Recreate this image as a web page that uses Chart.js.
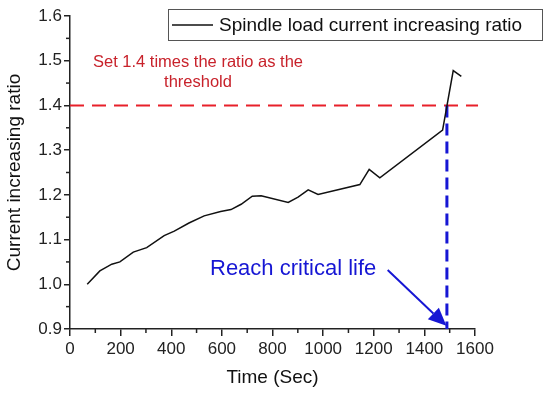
<!DOCTYPE html>
<html>
<head>
<meta charset="utf-8">
<script src="https://cdn.jsdelivr.net/npm/chart.js@4.4.1/dist/chart.umd.min.js"></script>
<style>
  body { margin: 0; background: #fff; }
  #wrap { width: 550px; height: 393px; }
</style>
</head>
<body>
<div id="wrap"><canvas id="c" width="550" height="393"></canvas></div>
<script>
// values
const seriesLabel = "Spindle load current increasing ratio";
const times = [68, 118, 165, 197, 250, 303, 372, 412, 470, 530, 595, 636, 676, 720, 755,
               862, 901, 941, 980, 1145, 1182, 1224, 1472, 1514, 1546];
const ratios = [1.000, 1.030, 1.045, 1.050, 1.072, 1.082, 1.109, 1.119, 1.137, 1.153, 1.163, 1.167,
                1.179, 1.197, 1.198, 1.183, 1.195, 1.211, 1.201, 1.223, 1.257, 1.238, 1.345, 1.478, 1.465];

const thresholdX = [0, 1612];
const thresholdY = [1.4, 1.4];
const criticalX = [1489, 1489];
const criticalY = [1.4, 0.9];

const thresholdNote = ["Set 1.4 times the ratio as the", "threshold"];
const criticalNote = "Reach critical life";
const arrowFrom = [1255, 1.032];
const arrowTo = [1487, 0.907];

const xTicks = [0, 200, 400, 600, 800, 1000, 1200, 1400, 1600];
const yTicks = [0.9, 1.0, 1.1, 1.2, 1.3, 1.4, 1.5, 1.6];

const FONT = "'Liberation Sans', Arial, sans-serif";
const pts = (xs, ys) => xs.map((x, i) => ({ x: x, y: ys[i] }));

// short minor ticks halfway between the labelled ones
const minorTicks = {
    id: 'minorTicks',
    afterDraw(chart) {
        const ctx = chart.ctx;
        const xs = chart.scales.x, ys = chart.scales.y;
        ctx.save();
        ctx.strokeStyle = '#222';
        ctx.lineWidth = 1.5;
        for (let i = 0; i < xTicks.length - 1; i++) {
            const px = xs.getPixelForValue((xTicks[i] + xTicks[i + 1]) / 2);
            ctx.beginPath();
            ctx.moveTo(px, xs.top);
            ctx.lineTo(px, xs.top + 4);
            ctx.stroke();
        }
        for (let i = 0; i < yTicks.length - 1; i++) {
            const py = ys.getPixelForValue((yTicks[i] + yTicks[i + 1]) / 2);
            ctx.beginPath();
            ctx.moveTo(ys.right, py);
            ctx.lineTo(ys.right - 4, py);
            ctx.stroke();
        }
        ctx.restore();
    }
};

// legend box, notes and the arrow
const notes = {
    id: 'notes',
    afterDraw(chart) {
        const ctx = chart.ctx;
        const xs = chart.scales.x, ys = chart.scales.y;
        ctx.save();

        // legend
        ctx.strokeStyle = '#555';
        ctx.lineWidth = 1;
        ctx.strokeRect(168.5, 9.5, 374, 31);
        ctx.strokeStyle = '#111';
        ctx.lineWidth = 1.5;
        ctx.beginPath();
        ctx.moveTo(172, 25);
        ctx.lineTo(213, 25);
        ctx.stroke();
        ctx.fillStyle = '#111';
        ctx.font = '19px ' + FONT;
        ctx.textAlign = 'left';
        ctx.textBaseline = 'alphabetic';
        ctx.fillText(chart.data.datasets[0].label, 219, 31);

        // threshold note
        ctx.fillStyle = '#c8222b';
        ctx.font = '16.5px ' + FONT;
        ctx.textAlign = 'center';
        ctx.fillText(thresholdNote[0], 198, 67);
        ctx.fillText(thresholdNote[1], 198, 86.5);

        // critical life note
        ctx.fillStyle = '#1616d4';
        ctx.font = '22px ' + FONT;
        ctx.textAlign = 'left';
        ctx.fillText(criticalNote, 210, 275);

        // arrow
        const x0 = xs.getPixelForValue(arrowFrom[0]), y0 = ys.getPixelForValue(arrowFrom[1]);
        const x1 = xs.getPixelForValue(arrowTo[0]), y1 = ys.getPixelForValue(arrowTo[1]);
        const ang = Math.atan2(y1 - y0, x1 - x0);
        const headLen = 18, headW = 8;
        const bx = x1 - headLen * Math.cos(ang), by = y1 - headLen * Math.sin(ang);
        ctx.strokeStyle = '#1616d4';
        ctx.lineWidth = 2;
        ctx.beginPath();
        ctx.moveTo(x0, y0);
        ctx.lineTo(bx, by);
        ctx.stroke();
        ctx.fillStyle = '#1616d4';
        ctx.beginPath();
        ctx.moveTo(x1, y1);
        ctx.lineTo(bx + headW * Math.sin(ang), by - headW * Math.cos(ang));
        ctx.lineTo(bx - headW * Math.sin(ang), by + headW * Math.cos(ang));
        ctx.closePath();
        ctx.fill();

        ctx.restore();
    }
};

new Chart(document.getElementById('c'), {
    type: 'line',
    data: {
        datasets: [
            {
                label: seriesLabel,
                data: pts(times, ratios),
                borderColor: '#111',
                borderWidth: 1.5,
                pointRadius: 0,
                tension: 0,
                order: 1
            },
            {
                label: 'critical',
                data: pts(criticalX, criticalY),
                borderColor: '#1616d4',
                borderWidth: 3,
                borderDash: [12, 6],
                pointRadius: 0,
                order: 2
            },
            {
                label: 'threshold',
                data: pts(thresholdX, thresholdY),
                borderColor: '#e8202a',
                borderWidth: 2,
                borderDash: [14, 8],
                pointRadius: 0,
                clip: false,
                order: 3
            }
        ]
    },
    options: {
        responsive: false,
        animation: false,
        layout: { padding: { top: 16, right: 75, left: 0, bottom: 0 } },
        plugins: { legend: { display: false }, tooltip: { enabled: false } },
        scales: {
            x: {
                type: 'linear',
                min: 0,
                max: 1600,
                afterBuildTicks: (s) => { s.ticks = xTicks.map(v => ({ value: v })); },
                afterFit: (s) => { s.height = 64; },
                ticks: { color: '#222', font: { family: FONT, size: 17 }, padding: 3, maxRotation: 0,
                         callback: (v) => String(v) },
                grid: { drawOnChartArea: false, tickLength: 7, color: '#222', lineWidth: 1.5 },
                border: { color: '#222', width: 1.5 },
                title: { display: true, text: 'Time (Sec)', color: '#111',
                         font: { family: FONT, size: 19 }, padding: { top: 0, bottom: 4 } }
            },
            y: {
                min: 0.9,
                max: 1.6,
                afterBuildTicks: (s) => { s.ticks = yTicks.map(v => ({ value: v })); },
                afterFit: (s) => { s.width = 70; },
                ticks: { color: '#222', font: { family: FONT, size: 17 }, padding: 2,
                         callback: (v) => v.toFixed(1) },
                grid: { drawOnChartArea: false, tickLength: 6, color: '#222', lineWidth: 1.5 },
                border: { color: '#222', width: 1.5 },
                title: { display: true, text: 'Current increasing ratio', color: '#111',
                         font: { family: FONT, size: 19 }, padding: { top: 3, bottom: 0 } }
            }
        }
    },
    plugins: [minorTicks, notes]
});
</script>
</body>
</html>
